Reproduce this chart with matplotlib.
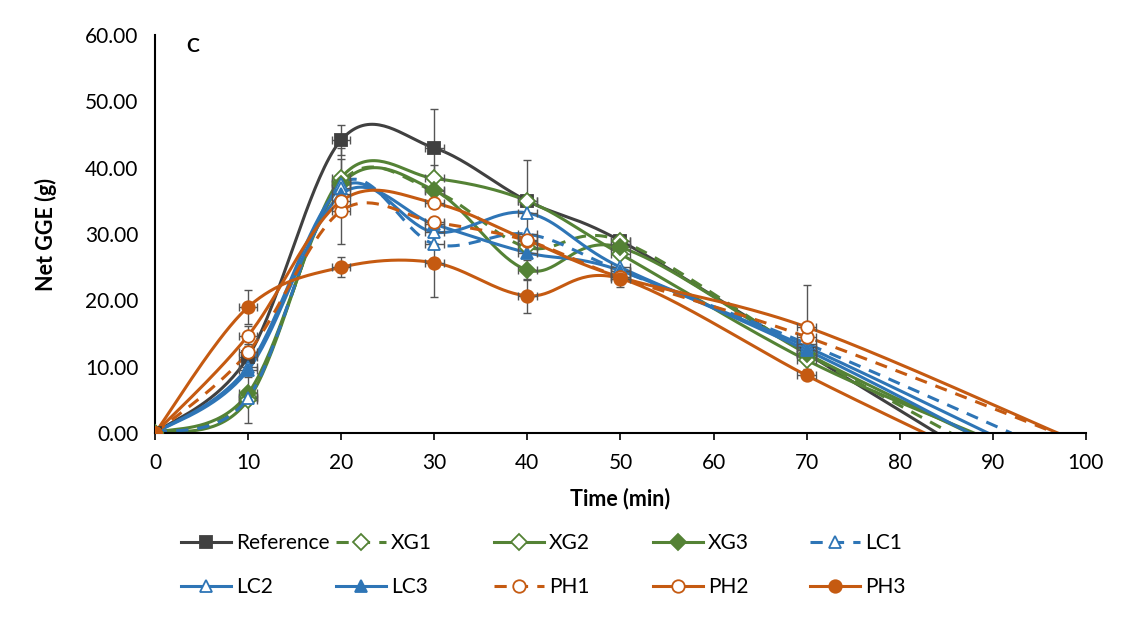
import numpy as np
import matplotlib.pyplot as plt
from matplotlib.lines import Line2D

plt.rcParams['font.family'] = ['Lato', 'DejaVu Sans']

# time points (last one is where each curve hits zero)
t = [0, 10, 20, 30, 40, 50, 70]
end_time = {
    'Reference': 84.0, 'XG1': 85.5, 'XG2': 88.0, 'XG3': 87.5, 'LC1': 92.0,
    'LC2': 89.5, 'LC3': 87.5, 'PH1': 96.8, 'PH2': 97.0, 'PH3': 82.7,
}
gge = {
    'Reference': [0, 11.5, 44.2, 43.0, 35.0, 29.0, 12.0],
    'XG1': [0, 5.5, 37.8, 36.5, 28.0, 29.0, 12.0],
    'XG2': [0, 5.0, 38.5, 38.4, 35.0, 27.0, 11.0],
    'XG3': [0, 6.0, 37.5, 36.6, 24.6, 28.0, 12.0],
    'LC1': [0, 5.3, 37.5, 28.5, 30.0, 24.5, 13.5],
    'LC2': [0, 10.0, 37.0, 30.3, 33.2, 25.0, 13.0],
    'LC3': [0, 9.5, 36.0, 31.5, 27.2, 24.5, 12.5],
    'PH1': [0, 12.2, 33.5, 31.8, 29.0, 23.5, 14.5],
    'PH2': [0, 14.7, 35.0, 34.7, 29.1, 23.5, 16.0],
    'PH3': [0, 19.0, 25.0, 25.7, 20.7, 23.3, 8.7],
}
# vertical error bars (only some are visible)
yerr = {
    'Reference': [0, 2.0, 2.2, 5.8, 6.2, 0.8, 0],
    'XG1': [0, 0, 3.5, 2.5, 0, 0, 0],
    'XG2': [0, 0, 4.5, 2.0, 0, 0, 0],
    'XG3': [0, 0, 0, 0, 1.5, 0, 0],
    'LC1': [0, 3.7, 0, 0, 0, 0, 0],
    'LC2': [0, 0, 0, 0, 0, 0, 0],
    'LC3': [0, 1.0, 0, 0, 0, 0, 0],
    'PH1': [0, 0, 5.0, 0, 0, 0, 0],
    'PH2': [0, 1.5, 0, 0, 0, 0, 6.3],
    'PH3': [0, 2.6, 1.5, 5.2, 2.6, 1.2, 0],
}

grey = '#404040'
green = '#548235'
blue = '#2E75B6'
orange = '#C55A11'

styles = {
    'Reference': dict(color=grey, ls='-', marker='s', mfc=grey),
    'XG1': dict(color=green, ls=(0, (4, 3)), marker='D', mfc='white'),
    'XG2': dict(color=green, ls='-', marker='D', mfc='white'),
    'XG3': dict(color=green, ls='-', marker='D', mfc=green),
    'LC1': dict(color=blue, ls=(0, (4, 3)), marker='^', mfc='white'),
    'LC2': dict(color=blue, ls='-', marker='^', mfc='white'),
    'LC3': dict(color=blue, ls='-', marker='^', mfc=blue),
    'PH1': dict(color=orange, ls=(0, (4, 3)), marker='o', mfc='white'),
    'PH2': dict(color=orange, ls='-', marker='o', mfc='white'),
    'PH3': dict(color=orange, ls='-', marker='o', mfc=orange),
}


def smooth(x, y, n=40):
    # Excel-style smoothed line: cubic Bezier with Catmull-Rom control points
    x = np.asarray(x, float)
    y = np.asarray(y, float)
    px = np.concatenate([[x[0]], x, [x[-1]]])
    py = np.concatenate([[y[0]], y, [y[-1]]])
    sx, sy = [], []
    s = np.linspace(0, 1, n)
    for i in range(1, len(px) - 2):
        p0 = np.array([px[i], py[i]])
        p3 = np.array([px[i + 1], py[i + 1]])
        c1 = p0 + (np.array([px[i + 1], py[i + 1]]) - np.array([px[i - 1], py[i - 1]])) / 6
        c2 = p3 - (np.array([px[i + 2], py[i + 2]]) - np.array([px[i], py[i]])) / 6
        b = ((1 - s) ** 3)[:, None] * p0 + (3 * (1 - s) ** 2 * s)[:, None] * c1 \
            + (3 * (1 - s) * s ** 2)[:, None] * c2 + (s ** 3)[:, None] * p3
        sx.extend(b[:, 0])
        sy.extend(b[:, 1])
    return np.array(sx), np.array(sy)


fig = plt.figure(figsize=(11.23, 6.17), dpi=100)
ax = fig.add_axes([0.138, 0.298, 0.829, 0.645])

handles = {}
for name in gge:
    st = styles[name]
    xs = t + [end_time[name]]
    ys = gge[name] + [0]
    ms = 9 if st['marker'] == 'o' else 8
    cx, cy = smooth(xs, ys)
    ax.plot(cx, cy, color=st['color'], ls=st['ls'], lw=2.2, zorder=2)
    ax.errorbar(xs[1:-1], ys[1:-1], yerr=yerr[name][1:], xerr=1.0,
                fmt='none', ecolor='#555555', elinewidth=1.0, capsize=3, zorder=3)
    ax.plot(xs[:-1], ys[:-1], ls='none', marker=st['marker'], ms=ms,
            mfc=st['mfc'], mec=st['color'], mew=1.3, zorder=4)
    handles[name] = Line2D([], [], color=st['color'], ls=st['ls'], lw=2.2,
                           marker=st['marker'], ms=ms,
                           mfc=st['mfc'], mec=st['color'], mew=1.3)

ax.set_xlim(0, 100)
ax.set_ylim(0, 60)
ax.set_xticks(range(0, 101, 10))
ax.set_yticks(range(0, 61, 10))
ax.set_yticklabels([f'{v:.2f}' for v in range(0, 61, 10)])
ax.tick_params(labelsize=15, direction='out', length=5, width=1.2)
ax.tick_params(axis='x', pad=9)
ax.tick_params(axis='y', length=0, pad=12)
for side in ['top', 'right']:
    ax.spines[side].set_visible(False)
ax.spines['left'].set_linewidth(1.5)
ax.spines['bottom'].set_linewidth(1.5)
ax.set_xlabel('Time (min)', fontsize=15.5, fontweight='bold', labelpad=11)
ax.set_ylabel('Net GGE (g)', fontsize=15.5, fontweight='bold', labelpad=20)
ax.text(4.0, 58.3, 'C', fontsize=14, fontweight='bold', va='center', ha='center')

# Excel lays legend entries on a regular grid: one small legend per column
columns = [('Reference', 'LC2'), ('XG1', 'LC3'), ('XG2', 'PH1'), ('XG3', 'PH2'), ('LC1', 'PH3')]
col_x = [181, 336, 494, 653, 810]
for names, px in zip(columns, col_x):
    fig.legend([handles[k] for k in names], list(names), loc='upper left',
               bbox_to_anchor=(px / 1123, 1 - 533 / 617), frameon=False, fontsize=15,
               handlelength=2.4, handletextpad=0.25, labelspacing=1.15,
               borderpad=0, borderaxespad=0)

fig.savefig('out.png', dpi=100)
